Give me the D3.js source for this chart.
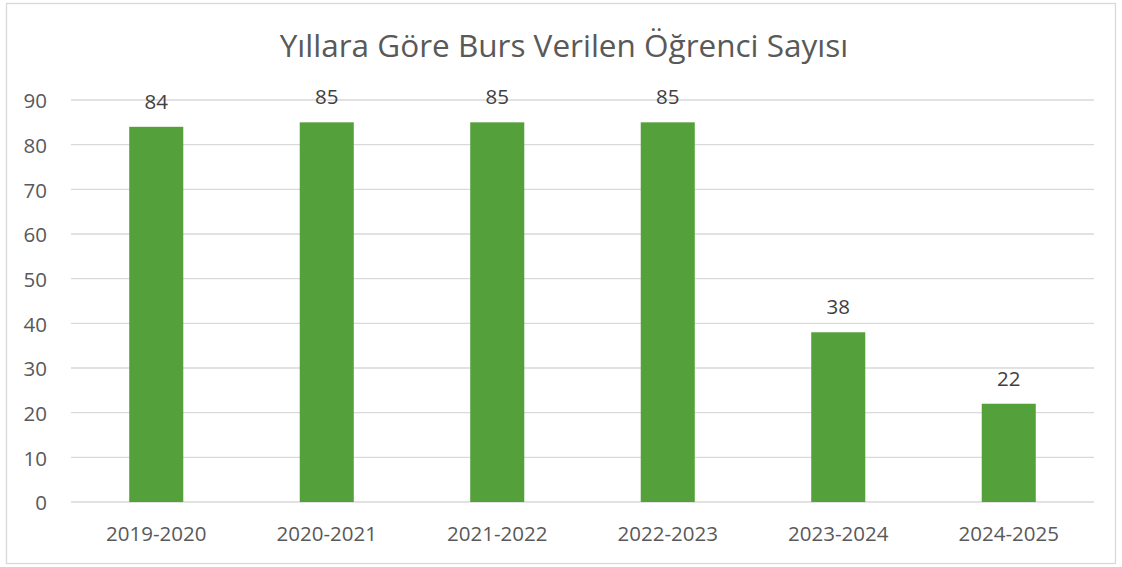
<!DOCTYPE html>
<html>
<head>
<meta charset="utf-8">
<script src="https://cdn.jsdelivr.net/npm/d3@7"></script>
<style>
  html, body { margin: 0; padding: 0; background: #fff; }
  svg { display: block; }
  svg text { font-family: "Open Sans", "Noto Sans", sans-serif; }
</style>
</head>
<body>
<svg id="chart" width="1122" height="567"></svg>
<script>
var categories = ['2019-2020', '2020-2021', '2021-2022', '2022-2023', '2023-2024', '2024-2025'];
var values = [84, 85, 85, 85, 38, 22];
var yTicks = [0, 10, 20, 30, 40, 50, 60, 70, 80, 90];
var title = 'Yıllara Göre Burs Verilen Öğrenci Sayısı';

var WIDTH = 1122;
var HEIGHT = 567;
var margin = { left: 71, right: 28, top: 100, bottom: 65 };
var BAR_COLOR = '#54a03a';
var GRID_COLOR = '#d9d9d9';
var TEXT_COLOR = '#595959';
var FONT_SIZE = '20.5px';

var svg = d3.select('#chart');

// outer chart border
svg.append('rect')
    .attr('x', 6.5)
    .attr('y', 3.5)
    .attr('width', WIDTH - 13)
    .attr('height', HEIGHT - 7)
    .attr('fill', '#fff')
    .attr('stroke', GRID_COLOR)
    .attr('stroke-width', 1.3);

var x = d3.scaleBand()
    .domain(categories)
    .range([margin.left, WIDTH - margin.right])
    .paddingInner(0.683)
    .paddingOuter(0.3415);

var y = d3.scaleLinear()
    .domain([0, 90])
    .range([HEIGHT - margin.bottom, margin.top]);

// gridlines
svg.append('g')
    .selectAll('line')
    .data(yTicks)
    .enter()
    .append('line')
    .attr('x1', margin.left)
    .attr('x2', WIDTH - margin.right)
    .attr('y1', function(d) { return y(d); })
    .attr('y2', function(d) { return y(d); })
    .attr('stroke', GRID_COLOR)
    .attr('stroke-width', 1.3);

// y axis labels
var yAxis = d3.axisLeft(y).tickValues(yTicks).tickSize(0).tickPadding(0);
var yAxisG = svg.append('g')
    .attr('transform', 'translate(' + 47 + ',0)')
    .call(yAxis);
yAxisG.select('.domain').remove();
yAxisG.selectAll('text')
    .attr('fill', TEXT_COLOR)
    .attr('dy', '0.38em')
    .style('font-size', FONT_SIZE);

// x axis labels
var xAxis = d3.axisBottom(x).tickSize(0).tickPadding(0);
var xAxisG = svg.append('g')
    .attr('transform', 'translate(0,' + (HEIGHT - margin.bottom + 24.5) + ')')
    .call(xAxis);
xAxisG.select('.domain').remove();
xAxisG.selectAll('text')
    .attr('fill', TEXT_COLOR)
    .style('font-size', FONT_SIZE);

// bars
svg.append('g')
    .selectAll('rect')
    .data(values)
    .enter()
    .append('rect')
    .attr('x', function(d, i) { return x(categories[i]); })
    .attr('y', function(d) { return y(d); })
    .attr('width', x.bandwidth())
    .attr('height', function(d) { return y(0) - y(d); })
    .attr('fill', BAR_COLOR);

// value labels
svg.append('g')
    .selectAll('text')
    .data(values)
    .enter()
    .append('text')
    .attr('x', function(d, i) { return x(categories[i]) + x.bandwidth() / 2; })
    .attr('y', function(d) { return y(d) - 18; })
    .attr('text-anchor', 'middle')
    .attr('fill', '#404040')
    .style('font-size', FONT_SIZE)
    .text(function(d) { return d; });

// title
svg.append('text')
    .attr('x', WIDTH / 2 + 3)
    .attr('y', 57)
    .attr('text-anchor', 'middle')
    .attr('fill', TEXT_COLOR)
    .style('font-size', '31.5px')
    .text(title);
</script>
</body>
</html>
